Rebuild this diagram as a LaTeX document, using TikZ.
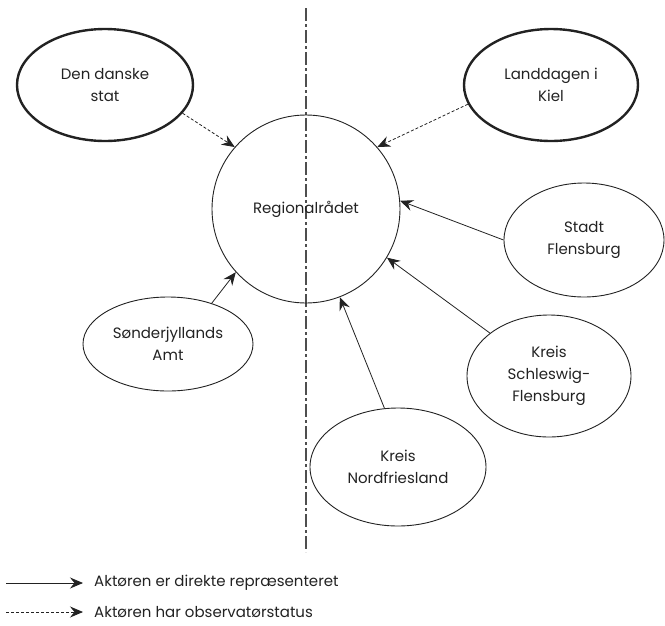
\documentclass[tikz,border=0pt]{standalone}
\usepackage{fontspec}
\setmainfont{Poppins}
\usetikzlibrary{shapes.geometric,arrows.meta}
\definecolor{ink}{HTML}{222222}
\tikzset{
  actor/.style={ellipse,draw=ink,line width=0.9pt,inner sep=0pt,align=center,font=\fontsize{15}{22}\selectfont,text=ink},
  bigactor/.style={actor,line width=2.4pt},
  conn/.style={draw=ink,line width=0.8pt,-{Stealth[length=13pt,width=11pt,inset=4.5pt]}},
  obs/.style={conn,dash pattern=on 3pt off 2pt},
  axisline/.style={draw=ink!80,line width=1.1pt,dash pattern=on 13pt off 3pt on 3pt off 3pt},
  legendtext/.style={anchor=west,inner sep=0pt,font=\fontsize{15}{17}\selectfont,text=ink}
}
\begin{document}
\begin{tikzpicture}[x=1pt,y=-1pt]
\useasboundingbox (0,0) rectangle (665,625);
\coordinate (axtop) at (306,8);
\coordinate (axbot) at (306,552);
\draw[axisline] (axtop) -- (axbot);
\node[circle,draw=ink,line width=0.9pt,minimum size=188pt,inner sep=0pt,font=\fontsize{15}{22}\selectfont,text=ink] (reg) at (306,209) {Regionalrådet};
\node[bigactor,minimum width=176pt,minimum height=112pt] (dk) at (105,85) {Den danske\\stat};
\node[bigactor,minimum width=174pt,minimum height=112pt] (kiel) at (551,85) {Landdagen i\\Kiel};
\node[actor,minimum width=160pt,minimum height=114pt] (sf) at (584,240) {Stadt\\Flensburg};
\node[actor,minimum width=164pt,minimum height=122pt] (ksf) at (549,376) {Kreis\\Schleswig-\\Flensburg};
\node[actor,minimum width=176pt,minimum height=118pt] (nf) at (398,467) {Kreis\\Nordfriesland};
\node[actor,minimum width=170pt,minimum height=94pt] (sj) at (168,344) {Sønderjyllands\\Amt};
\draw[obs] (dk.-20) -- (reg.139);
\draw[obs] (kiel.193) -- (reg.41);
\draw[conn] (sf.west) -- (reg.5.5);
\draw[conn] (ksf.144) -- (reg.-31);
\draw[conn] (nf.103) -- (reg.-69);
\draw[conn] (sj.43) -- (reg.222);
\coordinate (l1a) at (6,583);
\coordinate (l1b) at (83,583);
\coordinate (l2a) at (6,612);
\coordinate (l2b) at (83,612);
\draw[conn] (l1a) -- (l1b);
\draw[obs] (l2a) -- (l2b);
\node[legendtext] (t1) at (94,583) {Aktøren er direkte repræsenteret};
\node[legendtext] (t2) at (94,612) {Aktøren har observatørstatus};
\end{tikzpicture}
\end{document}
